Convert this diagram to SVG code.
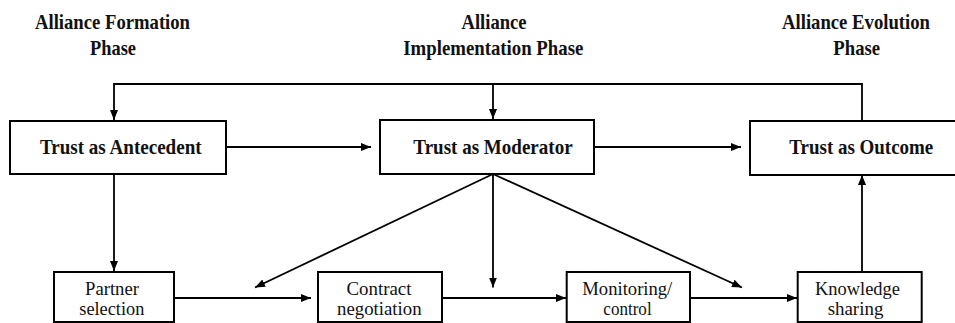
<svg xmlns="http://www.w3.org/2000/svg" width="955" height="323" viewBox="0 0 955 323">
<defs>
<marker id="ah" markerUnits="userSpaceOnUse" markerWidth="11" markerHeight="9" refX="10" refY="4" orient="auto">
<path d="M0,0 L10,4 L0,8 z" fill="#000"/>
</marker>
<style>
.box{fill:#fff;stroke:#000;stroke-width:2}
.hd{font-family:"Liberation Serif","DejaVu Serif","Times New Roman",serif;font-weight:bold;font-size:21px;text-anchor:middle;fill:#111}
.bt{font-family:"Liberation Serif","DejaVu Serif","Times New Roman",serif;font-weight:bold;font-size:22px;text-anchor:middle;fill:#111}
.st{font-family:"Liberation Serif","DejaVu Serif","Times New Roman",serif;font-size:19px;text-anchor:middle;fill:#111}
.ln{fill:none;stroke:#000;stroke-width:1.8}
.ar{fill:none;stroke:#000;stroke-width:1.8;marker-end:url(#ah)}
</style>
</defs>
<rect width="955" height="323" fill="#fff"/>
<g id="headings">
<text class="hd" x="112.5" y="29" textLength="155" lengthAdjust="spacingAndGlyphs">Alliance Formation</text>
<text class="hd" x="113" y="55" textLength="46" lengthAdjust="spacingAndGlyphs">Phase</text>
<text class="hd" x="494" y="29" textLength="65" lengthAdjust="spacingAndGlyphs">Alliance</text>
<text class="hd" x="493.3" y="55" textLength="180" lengthAdjust="spacingAndGlyphs">Implementation Phase</text>
<text class="hd" x="856" y="29" textLength="148" lengthAdjust="spacingAndGlyphs">Alliance Evolution</text>
<text class="hd" x="856.7" y="55" textLength="46.7" lengthAdjust="spacingAndGlyphs">Phase</text>
</g>
<g id="connectors">
<path class="ar" d="M862,121 V84 H114 V120"/>
<path class="ar" d="M493,84 V119"/>
<path class="ar" d="M226,147 H371"/>
<path class="ar" d="M594,147 H741"/>
<path class="ar" d="M114,174 V271"/>
<path class="ar" d="M493,174 L255,287.5"/>
<path class="ar" d="M493,174 V287.5"/>
<path class="ar" d="M493,174 L742,287.5"/>
<path class="ar" d="M174,298 H311"/>
<path class="ar" d="M442,298 H566"/>
<path class="ar" d="M690,298 H797"/>
<path class="ar" d="M862,272 V175"/>
</g>
<g id="antecedent">
<rect class="box" x="10" y="121" width="216" height="53"/>
<text class="bt" x="120.8" y="154" textLength="161.7" lengthAdjust="spacingAndGlyphs">Trust as Antecedent</text>
</g>
<g id="moderator">
<rect class="box" x="380" y="120" width="214" height="54"/>
<text class="bt" x="493" y="153.5" textLength="159.3" lengthAdjust="spacingAndGlyphs">Trust as Moderator</text>
</g>
<g id="outcome">
<rect class="box" x="750" y="121" width="215" height="54"/>
<text class="bt" x="861.3" y="153.5" textLength="144" lengthAdjust="spacingAndGlyphs">Trust as Outcome</text>
</g>
<g id="partner">
<rect class="box" x="54" y="272" width="120" height="50"/>
<text class="st" x="112" y="295" textLength="54" lengthAdjust="spacingAndGlyphs">Partner</text>
<text class="st" x="111.8" y="314.5" textLength="65" lengthAdjust="spacingAndGlyphs">selection</text>
</g>
<g id="contract">
<rect class="box" x="318" y="272" width="124" height="50"/>
<text class="st" x="379" y="295" textLength="65" lengthAdjust="spacingAndGlyphs">Contract</text>
<text class="st" x="379.3" y="314.5" textLength="84.6" lengthAdjust="spacingAndGlyphs">negotiation</text>
</g>
<g id="monitoring">
<rect class="box" x="566.7" y="272" width="123.3" height="50"/>
<text class="st" x="627.3" y="295" textLength="90" lengthAdjust="spacingAndGlyphs">Monitoring/</text>
<text class="st" x="627.5" y="314.5" textLength="48.3" lengthAdjust="spacingAndGlyphs">control</text>
</g>
<g id="knowledge">
<rect class="box" x="797.7" y="272" width="124" height="50"/>
<text class="st" x="857.5" y="295" textLength="85" lengthAdjust="spacingAndGlyphs">Knowledge</text>
<text class="st" x="855.5" y="314.5" textLength="55.7" lengthAdjust="spacingAndGlyphs">sharing</text>
</g>
</svg>
